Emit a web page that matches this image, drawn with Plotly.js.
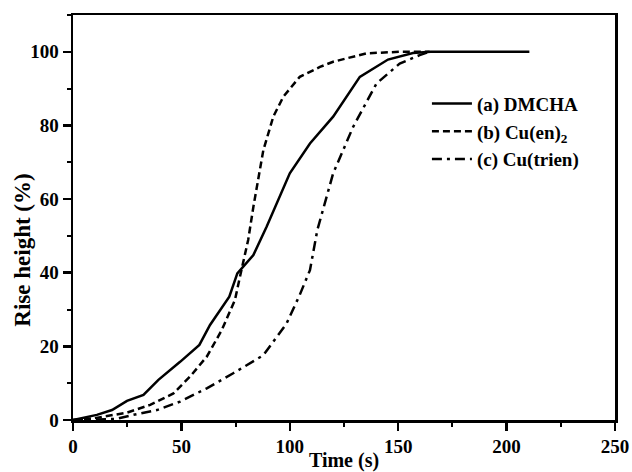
<!DOCTYPE html>
<html>
<head>
<meta charset="utf-8">
<script src="https://cdn.plot.ly/plotly-3.0.1.min.js"></script>
<style>html,body{margin:0;padding:0;background:#fff;}#chart{width:632px;height:472px;}</style>
</head>
<body>
<div id="chart"></div>
<script>
// Series (a) DMCHA
const dmchaTime = [0, 11, 18, 24.9, 32.5, 39.4, 49.4, 58.3, 63.2, 72.1, 75.8, 83.2, 89.3, 100, 109.3, 120, 132.3, 145.3, 156.8, 165, 210.5];
const dmchaRise = [0, 1.4, 2.7, 5.2, 6.8, 10.9, 15.8, 20.4, 25.8, 33.5, 39.8, 44.8, 52.5, 67, 75.1, 82.4, 93.2, 97.9, 99.7, 100, 100];
// Series (b) Cu(en)2
const cuenTime = [0, 10, 17, 24.9, 35.6, 46.3, 54, 61.7, 68.6, 74.7, 77, 80.8, 83.2, 87.8, 92.4, 97, 104.6, 113.9, 120, 135.4, 150.7, 164.5];
const cuenRise = [0, 0.5, 1.2, 2, 4.1, 7.2, 11.8, 17.2, 24.4, 32.6, 38.9, 48.9, 57.9, 73.3, 82.4, 87.8, 93.2, 95.9, 97.3, 99.6, 100, 100];
// Series (c) Cu(trien)
const trienTime = [0, 20, 27.9, 38.7, 49.4, 61.7, 73.9, 87.8, 98.5, 104.6, 109.3, 112.7, 120, 129.2, 140, 150.7, 159.9, 164.5];
const trienRise = [0, 0.3, 1.4, 2.7, 5, 8.6, 12.7, 17.6, 26.2, 34, 40.7, 51.6, 67, 79.6, 91.4, 96.8, 99.1, 100];
const seriesNames = ["(a) DMCHA", "(b) Cu(en)<sub>2</sub>", "(c) Cu(trien)"];
const xTicks = [0, 50, 100, 150, 200, 250];
const yTicks = [0, 20, 40, 60, 80, 100];
const xTitle = "Time (s)";
const yTitle = "Rise height (%)";

const fontFam = "Liberation Serif, Times New Roman, serif";
const traces = [
  {x: dmchaTime, y: dmchaRise, name: seriesNames[0], mode: "lines", line: {color: "#000", width: 2.5, dash: "solid"}},
  {x: cuenTime, y: cuenRise, name: seriesNames[1], mode: "lines", line: {color: "#000", width: 2.5, dash: "7px,4px"}},
  {x: trienTime, y: trienRise, name: seriesNames[2], mode: "lines", line: {color: "#000", width: 2.5, dash: "10px,5px,3px,5px"}}
];
const axisCommon = {
  showline: true, linecolor: "#000", linewidth: 2.5, mirror: true,
  ticks: "outside", ticklen: 8, tickwidth: 2.5, tickcolor: "#000",
  showgrid: false, zeroline: false,
  tickfont: {family: fontFam, size: 19, color: "#000", weight: "bold"}
};
const layout = {
  width: 632, height: 472,
  margin: {l: 72.7, r: 17, t: 14.7, b: 52},
  paper_bgcolor: "#fff", plot_bgcolor: "#fff",
  font: {family: fontFam, color: "#000"},
  xaxis: Object.assign({}, axisCommon, {
    range: [0, 250], tickvals: xTicks, ticktext: xTicks.map(String),
    minor: {dtick: 25, ticklen: 4, tickwidth: 2, tickcolor: "#000", ticks: "outside"},
    title: {text: "<b>" + xTitle + "</b>", font: {family: fontFam, size: 20, color: "#000"}, standoff: 2}
  }),
  yaxis: Object.assign({}, axisCommon, {
    range: [0, 110], tickvals: yTicks, ticktext: yTicks.map(String),
    minor: {dtick: 10, ticklen: 4, tickwidth: 2, tickcolor: "#000", ticks: "outside"}
  }),
  annotations: [{
    text: "<b>" + yTitle + "</b>", textangle: -90, showarrow: false,
    xref: "paper", yref: "paper", x: -0.0935, y: 0.419, xanchor: "center", yanchor: "middle",
    font: {family: fontFam, size: 23, color: "#000"}
  }],
  legend: {
    x: 0.653, y: 0.828, xanchor: "left", yanchor: "top",
    bgcolor: "rgba(0,0,0,0)", borderwidth: 0,
    font: {family: fontFam, size: 19, color: "#000", weight: "bold"},
    itemwidth: 40, tracegroupgap: 0
  },
  showlegend: true
};
Plotly.newPlot("chart", traces, layout, {displayModeBar: false, staticPlot: true});
</script>
</body>
</html>
